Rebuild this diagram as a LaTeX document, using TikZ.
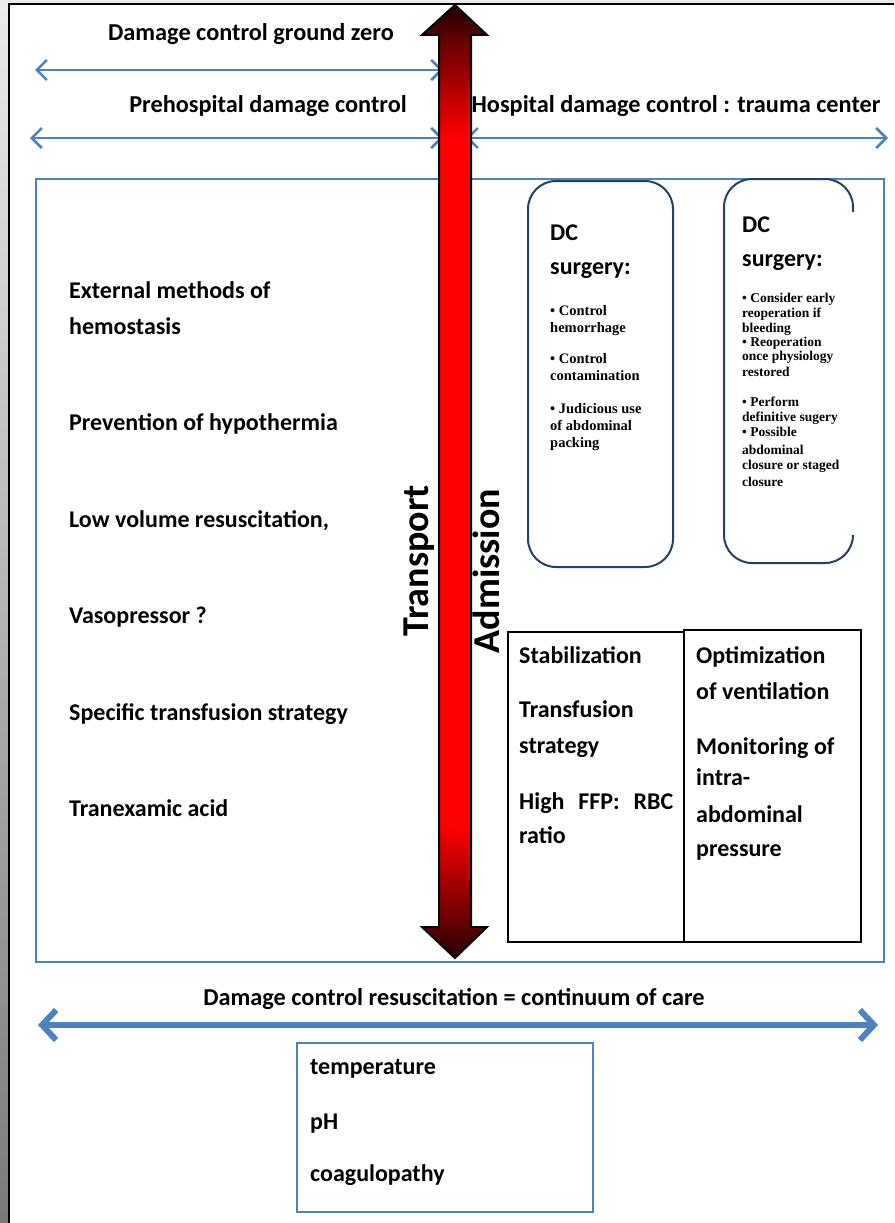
\documentclass[tikz,border=0pt]{standalone}
\usepackage{fontspec}
\setmainfont{Carlito}
\newfontfamily\bulletfont{Liberation Serif}
\usetikzlibrary{arrows.meta}

\definecolor{ribbon}{RGB}{79,129,189}
\definecolor{navyframe}{RGB}{36,64,98}
\definecolor{arrowdark}{RGB}{30,0,0}
\definecolor{arrowmid}{RGB}{105,0,0}
\pgfdeclareverticalshading{transfer}{100bp}{color(0bp)=(arrowdark); color(25bp)=(arrowdark); color(27bp)=(arrowmid); color(32bp)=(red); color(68bp)=(red); color(73bp)=(arrowmid); color(75bp)=(arrowdark); color(100bp)=(arrowdark)}

\tikzset{
  span/.style={ribbon, line width=2.6pt, {Straight Barb[length=10pt,width=20pt]}-{Straight Barb[length=10pt,width=20pt]}},
  bigspan/.style={ribbon, line width=6pt, {Straight Barb[length=14pt,width=30pt]}-{Straight Barb[length=14pt,width=30pt]}},
  frame/.style={ribbon, line width=2.4pt},
  dcframe/.style={navyframe, line width=2pt, rounded corners=28pt},
  cell/.style={black, line width=1.2pt},
  lbl/.style={font=\bfseries\fontsize{24}{28}\selectfont, inner sep=0pt, anchor=base west},
  ttl/.style={lbl, font=\bfseries\fontsize{24.3}{28}\selectfont, anchor=base},
  dchead/.style={lbl, font=\bfseries\fontsize{24}{26}\selectfont},
  bul/.style={font=\bulletfont\bfseries\fontsize{14.5}{17}\selectfont, inner sep=0pt, anchor=base west},
  bulsm/.style={bul, font=\bulletfont\bfseries\fontsize{13.5}{15}\selectfont},
  vlbl/.style={font=\bfseries\fontsize{38}{40}\selectfont, inner sep=0pt, rotate=90, anchor=base}
}

\begin{document}
\begin{tikzpicture}[x=1pt,y=-1pt]
  \useasboundingbox (0,0) rectangle (894,1223);
  \shade[top color=black!8, bottom color=black!52] (0,0) rectangle (8,1223);
  \fill[black!8] (8,0) rectangle (894,3);
  \draw[line width=1.6pt] (9,1223) |- (894,4);

  \node[ttl] (gz) at (251,41) {Damage control ground zero};
  \node[ttl] (pre) at (268,112) {Prehospital damage control};
  \node[ttl] (hosp) at (676,112) {Hospital damage control : trauma center};
  \coordinate (gzL) at (35,70);    \coordinate (gzR) at (443,70);
  \coordinate (preL) at (30,138);  \coordinate (preR) at (443,138);
  \coordinate (hospL) at (466,138); \coordinate (hospR) at (888,138);
  \draw[span] (gzL) -- (gzR);
  \draw[span] (preL) -- (preR);
  \draw[span] (hospL) -- (hospR);

  \draw[frame] (36,179) rectangle (884,962);

  \foreach \t/\y [count=\i] in {External methods of/298, hemostasis/334,
      Prevention of hypothermia/430, {Low volume resuscitation,}/527,
      Vasopressor ?/623, Specific transfusion strategy/720, Tranexamic acid/816}
    \node[lbl] (care\i) at (69,\y) {\t};

  \draw[dcframe] (528,181) rectangle (673,567);
  \draw[dcframe] (853,212) |- (724,179) |- (853,563) -- (853,535);
  \node[dchead] (dcA) at (550,240) {DC};
  \node[dchead] (surgA) at (550,274) {surgery:};
  \node[dchead] (dcB) at (742,232) {DC};
  \node[dchead] (surgB) at (742,266) {surgery:};
  \foreach \t/\y [count=\i] in {{• Control}/315, hemorrhage/332, {• Control}/363,
      contamination/380, {• Judicious use}/413, of abdominal/430, packing/447}
    \node[bul] (cutA\i) at (550,\y) {\t};
  \foreach \t/\y [count=\i] in {{• Consider early}/302, reoperation if/317, bleeding/332,
      {• Reoperation}/346, once physiology/360, restored/376, {• Perform}/406,
      definitive sugery/421, {• Possible}/436, abdominal/454, closure or staged/469, closure/486}
    \node[bulsm] (cutB\i) at (742,\y) {\t};

  \draw[cell] (508,632) rectangle (684,942);
  \draw[cell] (684,630) rectangle (861,942);
  \foreach \t/\y [count=\i] in {Stabilization/663, Transfusion/717, strategy/753,
      {\makebox[154pt][s]{High FFP: RBC}}/809, ratio/843}
    \node[lbl] (stab\i) at (519,\y) {\t};
  \foreach \t/\y [count=\i] in {Optimization/663, of ventilation/699, Monitoring of/754,
      intra-/785, abdominal/822, pressure/856}
    \node[lbl] (vent\i) at (696,\y) {\t};

  \shadedraw[shading=transfer, line width=2pt, line join=miter]
    (455,5) -- (487,35) -- (471,35) -- (471,927) -- (487,927) -- (455,958)
    -- (422,927) -- (439,927) -- (439,35) -- (422,35) -- cycle;
  \node[vlbl] (transport) at (428,561) {Transport};
  \node[vlbl] (admission) at (499,571) {Admission};

  \node[ttl] (dcr) at (454,1005) {Damage control resuscitation = continuum of care};
  \coordinate (dcrL) at (38,1025); \coordinate (dcrR) at (878,1025);
  \draw[bigspan] (dcrL) -- (dcrR);
  \draw[frame] (297,1043) rectangle (593,1212);
  \foreach \t/\y [count=\i] in {temperature/1074, pH/1129, coagulopathy/1181}
    \node[lbl] (lethal\i) at (310,\y) {\t};
\end{tikzpicture}
\end{document}
